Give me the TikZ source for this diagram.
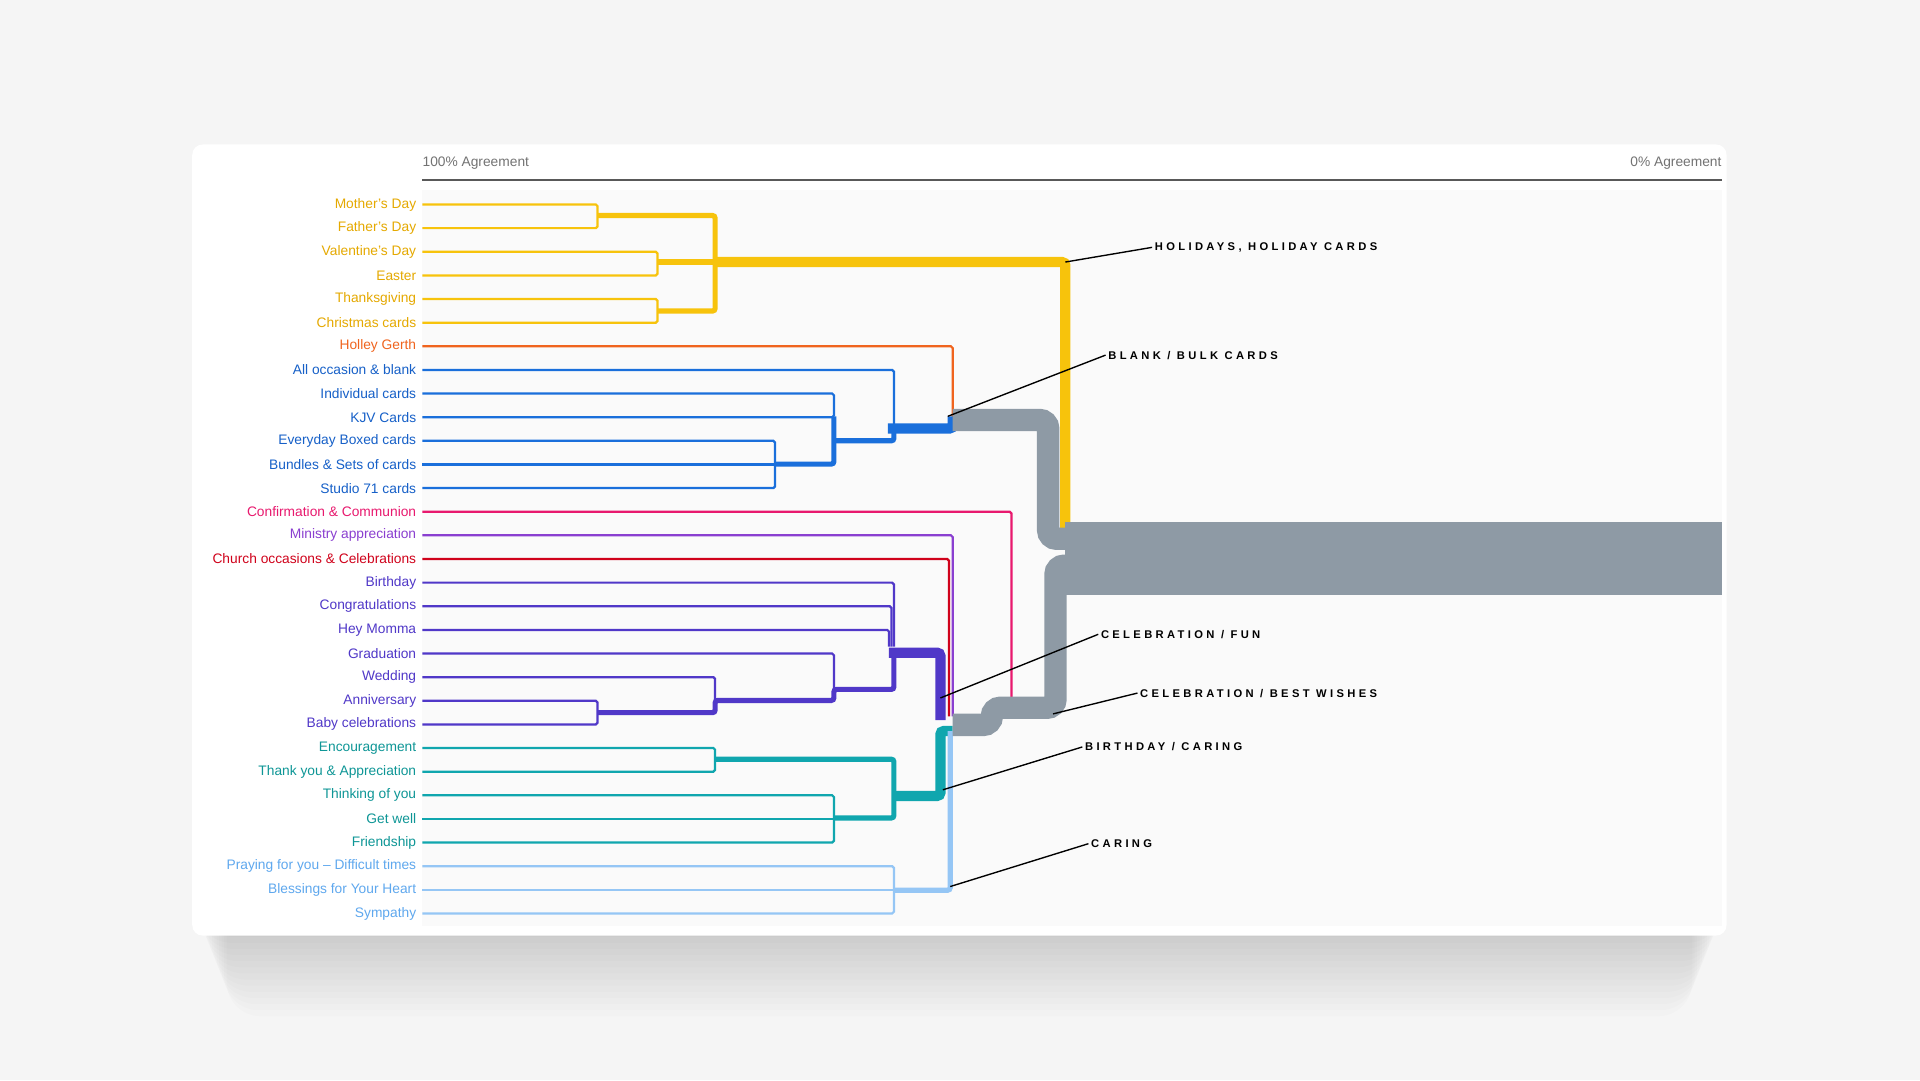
\documentclass[tikz,border=0pt]{standalone}
\usepackage{fontspec}
\setmainfont{Liberation Sans}
\newfontfamily\capfont[LetterSpace=30]{Liberation Sans}
\usetikzlibrary{calc}
\definecolor{cyel}{HTML}{F7C30C}
\definecolor{tyel}{HTML}{E5A900}
\definecolor{cora}{HTML}{F0641E}
\definecolor{cblu}{HTML}{1A6FDB}
\definecolor{tblu}{HTML}{1660C8}
\definecolor{cpnk}{HTML}{E8196E}
\definecolor{cvio}{HTML}{8A3FD0}
\definecolor{cred}{HTML}{D0021B}
\definecolor{cpur}{HTML}{5038C8}
\definecolor{ctea}{HTML}{10A6AE}
\definecolor{ttea}{HTML}{0E9696}
\definecolor{clbl}{HTML}{95C6F5}
\definecolor{tlbl}{HTML}{5FA8EE}
\definecolor{cgry}{HTML}{8E9AA5}
\begin{document}
\begin{tikzpicture}[x={(0.05cm,0)}, y={(0,-0.05cm)},
  lbl/.style = {anchor=east, inner sep=0pt, font=\fontsize{16}{18}\selectfont},
  thin/.style = {line width=2.6pt, rounded corners=2pt},
  mid/.style = {line width=6pt, rounded corners=3pt},
  fat/.style = {line width=12pt, rounded corners=4pt},
  huge/.style = {line width=26pt, rounded corners=10pt, cgry},
  tag/.style = {anchor=west, inner sep=0pt, font=\capfont\bfseries\fontsize{13}{15}\selectfont},
  callout/.style = {black, line width=1.6pt}]
% background and card
\fill[black!4] (0,0) rectangle (1568,882);
\useasboundingbox (0,0) rectangle (1568,882);
\foreach \s in {1,...,14}{
  \fill[black, opacity=0.012, rounded corners=40pt] (157+\s*2,140-\s) rectangle (1410-\s*2,760+\s*5);
}
\fill[white, rounded corners=12pt] (157,118) rectangle (1410,764);
\fill[black!2] (345,155) rectangle (1406,756);
\node[anchor=west, inner sep=0pt, text=black!55, font=\fontsize{16}{18}\selectfont] (top0) at (345,133) {100\% Agreement};
\node[anchor=east, inner sep=0pt, text=black!55, font=\fontsize{16}{18}\selectfont] (top1) at (1406,133) {0\% Agreement};
\draw[black!65, line width=2pt] (345,147) -- (1406,147);
% rows
\foreach \txt/\col [count=\i from 0] in {Mother's Day/tyel, Father's Day/tyel, Valentine's Day/tyel, Easter/tyel, Thanksgiving/tyel, Christmas cards/tyel, Holley Gerth/cora, All occasion \& blank/tblu, Individual cards/tblu, KJV Cards/tblu, Everyday Boxed cards/tblu, Bundles \& Sets of cards/tblu, Studio 71 cards/tblu, Confirmation \& Communion/cpnk, Ministry appreciation/cvio, Church occasions \& Celebrations/cred, Birthday/cpur, Congratulations/cpur, Hey Momma/cpur, Graduation/cpur, Wedding/cpur, Anniversary/cpur, Baby celebrations/cpur, Encouragement/ttea, Thank you \& Appreciation/ttea, Thinking of you/ttea, Get well/ttea, Friendship/ttea, Praying for you -- Difficult times/tlbl, Blessings for Your Heart/tlbl, Sympathy/tlbl}{
  \pgfmathsetmacro{\yy}{167+19.3*\i}
  \node[lbl, text=\col] (l\i) at (340,\yy) {\txt};
  \coordinate (r\i) at (345,\yy);
}
% holidays
\draw[thin, cyel] (r0) -| (488,0 |- r1) -- (r1);
\draw[thin, cyel] (r2) -| (537,0 |- r3) -- (r3);
\draw[thin, cyel] (r4) -| (537,0 |- r5) -- (r5);
\draw[mid, cyel] (488,176) -- (584,176) -- (584,254) -- (537,254);
\draw[mid, cyel] (537,214) -- (584,214);
\draw[fat, cyel] (584,214) -- (870,214) -- (870,437);
% holley gerth
\draw[thin, cora] (r6) -| (778,345);
% blank / bulk
\draw[thin, cblu] (r7) -| (730,352);
\draw[thin, cblu] (r8) -| (681,0 |- r9) -- (r9);
\draw[thin, cblu] (r10) -| (633,0 |- r12) -- (r12);
\draw[thin, cblu] (r11) -- (633,0 |- r11);
\draw[mid, cblu] (633,379) -- (681,379) -- (681,340);
\draw[mid, cblu] (681,360) -- (730,360) -- (730,350);
\draw[fat, cblu] (725,350) -- (778,350) -- (778,340);
% singles
\draw[thin, cpnk] (r13) -| (826,578);
\draw[thin, cvio] (r14) -| (778,585);
\draw[thin, cred] (r15) -| (775,585);
% celebration
\draw[thin, cpur] (r16) -| (730,528);
\draw[thin, cpur] (r17) -| (728,528);
\draw[thin, cpur] (r18) -| (726,528);
\draw[thin, cpur] (r19) -| (681,563);
\draw[thin, cpur] (r20) -| (584,575);
\draw[thin, cpur] (r21) -| (488,0 |- r22) -- (r22);
\draw[mid, cpur] (488,582) -- (584,582) -- (584,572) -- (681,572) -- (681,563) -- (730,563) -- (730,533);
\draw[fat, cpur] (726,533) -- (768,533) -- (768,588);
% birthday / caring
\draw[thin, ctea] (r23) -| (584,0 |- r24) -- (r24);
\draw[thin, ctea] (r25) -| (681,0 |- r27) -- (r27);
\draw[thin, ctea] (r26) -- (681,0 |- r26);
\draw[mid, ctea] (584,620) -- (730,620) -- (730,668) -- (681,668);
\draw[fat, ctea] (730,650) -- (768,650) -- (768,597) -- (778,597);
% caring
\draw[thin, clbl] (r28) -| (730,0 |- r30) -- (r30);
\draw[thin, clbl] (r29) -- (730,0 |- r29);
\draw[mid, clbl] (730,727) -- (776,727) -- (776,597);
% grey trunk
\draw[huge] (778,343) -- (856,343) -- (856,440) -- (870,440);
\draw[huge] (778,592) -- (810,592) -- (810,578) -- (862,578) -- (862,462) -- (878,462);
\fill[cgry] (870,426) rectangle (1406,486);
% callouts
\node[tag] (t0) at (943,202) {HOLIDAYS, HOLIDAY CARDS};
\node[tag] (t1) at (905,290) {BLANK / BULK CARDS};
\node[tag] (t2) at (899,518) {CELEBRATION / FUN};
\node[tag] (t3) at (931,566) {CELEBRATION / BEST WISHES};
\node[tag] (t4) at (886,610) {BIRTHDAY / CARING};
\node[tag] (t5) at (891,689) {CARING};
\coordinate (c0) at (870,214);
\coordinate (c1) at (774,340);
\coordinate (c2) at (768,570);
\coordinate (c3) at (860,583);
\coordinate (c4) at (770,645);
\coordinate (c5) at (776,724);
\foreach \k in {0,...,5}{
  \draw[callout] (c\k) -- ([xshift=-3pt]t\k.west);
}
\end{tikzpicture}
\end{document}
